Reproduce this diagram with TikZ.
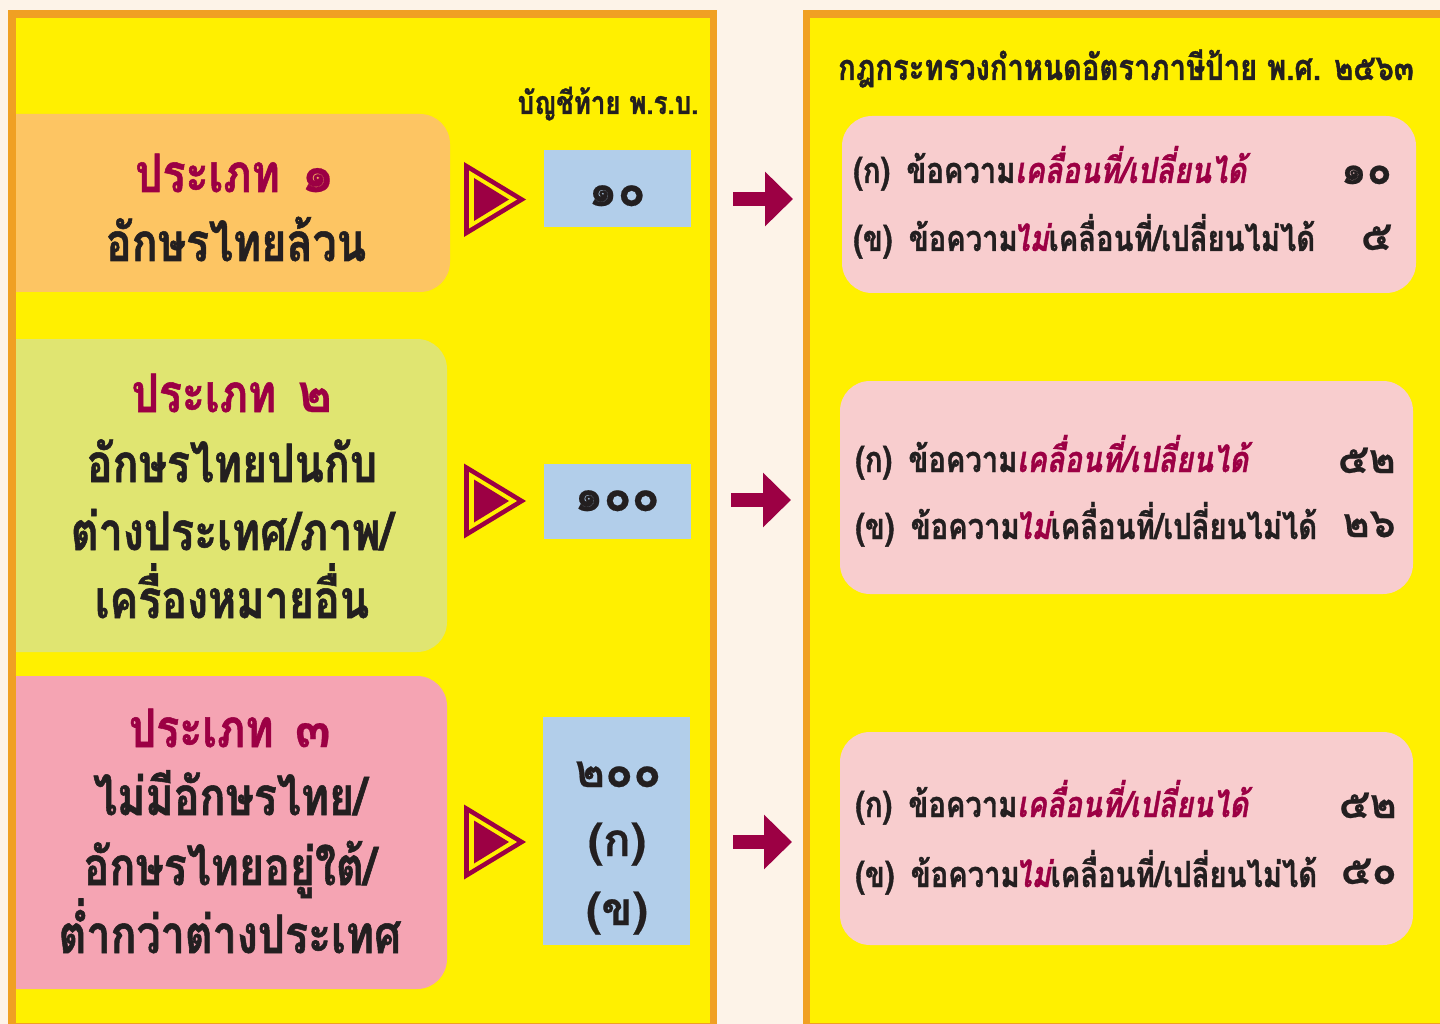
\documentclass[tikz,border=0pt]{standalone}
\usepackage{fontspec}
\usetikzlibrary{arrows.meta}
\newfontfamily\thai[Script=Thai, FakeStretch=0.81, BoldFeatures={FakeBold=1}, BoldItalicFeatures={FakeBold=1}]{Loma}
\newfontfamily\thaidig[Script=Thai, BoldFeatures={FakeBold=0.4}]{Loma}
\definecolor{cream}{HTML}{FDF3E8}
\definecolor{orangeB}{HTML}{F0A023}
\definecolor{yel}{HTML}{FFF000}
\definecolor{boxA}{HTML}{FDC563}
\definecolor{boxB}{HTML}{E0E571}
\definecolor{boxC}{HTML}{F5A4B3}
\definecolor{blueb}{HTML}{B2CEEA}
\definecolor{dred}{HTML}{9C0044}
\definecolor{pinkb}{HTML}{F8CDCE}
\definecolor{ink}{HTML}{231F20}
\tikzset{
  big/.style={font=\thai\bfseries\fontsize{53}{53}\selectfont, text=ink, anchor=base, inner sep=0},
  bigtitle/.style={big, text=dred},
  row/.style={font=\thai\bfseries\fontsize{36}{36}\selectfont, text=ink, anchor=base west, inner sep=0},
  num/.style={font=\thaidig\bfseries\fontsize{41}{41}\selectfont, text=ink, anchor=base east, inner sep=0},
  bnum/.style={font=\thaidig\bfseries\fontsize{46}{46}\selectfont, text=ink, anchor=base, inner sep=0},
  head/.style={font=\thai\bfseries\fontsize{32}{32}\selectfont, text=ink, anchor=base, inner sep=0},
  headr/.style={head, font=\thai\bfseries\fontsize{36}{36}\selectfont},
  bigarrow/.style={dred, line width=14pt, -{Triangle[length=28pt,width=53pt]}},
}
\newcommand{\tri}[1]{%
  \fill[dred] (464,#1-37.5) -- (464,#1+37.5) -- (526,#1) -- cycle;
  \fill[yel] (469,#1-29) -- (469,#1+29) -- (517,#1) -- cycle;
  \fill[dred] (474,#1-21.5) -- (474,#1+21.5) -- (509,#1) -- cycle;}
\newcommand{\mv}{{\color{dred}\itshape เคลื่อนที่/เปลี่ยนได้}}
\newcommand{\mai}{\hspace{-0.12em}{\color{dred}\itshape ไม่}}
\newcommand{\gap}{\hspace{0.45em}}
\newcommand{\dg}[1]{{\thaidig\bfseries #1}}
\begin{document}
\begin{tikzpicture}[x=1pt,y=-1pt]
\fill[cream] (0,0) rectangle (1440,1024);
\clip (0,0) rectangle (1440,1024);
% panels
\fill[yel] (12,14) rectangle (713.5,1027);
\fill[yel] (806.5,14) rectangle (1460,1027);
\begin{scope}
  \clip (16,0) rectangle (710,1024);
  \fill[boxA, rounded corners=30pt] (-40,114) rectangle (450,292);
  \fill[boxB, rounded corners=30pt] (-40,339) rectangle (447,652);
  \fill[boxC, rounded corners=30pt] (-40,676) rectangle (447,989);
\end{scope}
\draw[orangeB, line width=7.5pt] (12,14) rectangle (713.5,1027);
\draw[orangeB, line width=7.5pt] (806.5,14) rectangle (1460,1027);
% blue boxes
\fill[blueb] (544,150) rectangle (691,227);
\fill[blueb] (544,464) rectangle (691,539);
\fill[blueb] (543,717) rectangle (690,945);
% pink boxes
\fill[pinkb, rounded corners=30pt] (842,116) rectangle (1416,293);
\fill[pinkb, rounded corners=30pt] (840,381) rectangle (1413,594);
\fill[pinkb, rounded corners=30pt] (840,732) rectangle (1413,945);
% triangles
\tri{199.5}
\tri{501}
\tri{842}
% arrows
\coordinate (a1s) at (733,199); \coordinate (a1e) at (793,199);
\coordinate (a2s) at (731,500); \coordinate (a2e) at (791,500);
\coordinate (a3s) at (733,842); \coordinate (a3e) at (792,842);
\draw[bigarrow] (a1s) -- (a1e);
\draw[bigarrow] (a2s) -- (a2e);
\draw[bigarrow] (a3s) -- (a3e);
% headers
\node[head] (hl) at (608,114) {บัญชีท้าย พ.ร.บ.};
\node[headr] (hr) at (1126,80) {กฎกระทรวงกำหนดอัตราภาษีป้าย พ.ศ. ๒๕๖๓};
% left texts
\node[bigtitle] (t1a) at (235,192) {ประเภท\hspace{0.4em}\dg{๑}};
\node[big] (t1b) at (236,261) {อักษรไทยล้วน};
\node[bigtitle] (t2a) at (232,412) {ประเภท\hspace{0.4em}\dg{๒}};
\node[big] (t2b) at (232,482) {อักษรไทยปนกับ};
\node[big] (t2c) at (232,550) {ต่างประเทศ/ภาพ/};
\node[big] (t2d) at (232,618) {เครื่องหมายอื่น};
\node[bigtitle] (t3a) at (230,747) {ประเภท\hspace{0.4em}\dg{๓}};
\node[big] (t3b) at (230,815) {ไม่มีอักษรไทย/};
\node[big] (t3c) at (230,885) {อักษรไทยอยู่ใต้/};
\node[big] (t3d) at (230,953) {ต่ำกว่าต่างประเทศ};
% blue numbers
\node[bnum] (n1) at (617,206) {๑๐};
\node[bnum] (n2) at (617,511) {๑๐๐};
\node[bnum] (n3a) at (618,787) {๒๐๐};
\node[bnum] (n3b) at (617,856) {(ก)};
\node[bnum] (n3c) at (617,925) {(ข)};
% right rows
\node[row] (r1a) at (853,183) {(ก)\gap ข้อความ\mv};
\node[row] (r1b) at (853,251) {(ข)\gap ข้อความ\mai เคลื่อนที่/เปลี่ยนไม่ได้};
\node[num] (v1a) at (1392,184) {๑๐};
\node[num] (v1b) at (1392,250) {๕};
\node[row] (r2a) at (855,472) {(ก)\gap ข้อความ\mv};
\node[row] (r2b) at (855,539) {(ข)\gap ข้อความ\mai เคลื่อนที่/เปลี่ยนไม่ได้};
\node[num] (v2a) at (1396,473) {๕๒};
\node[num] (v2b) at (1396,537) {๒๖};
\node[row] (r3a) at (855,817) {(ก)\gap ข้อความ\mv};
\node[row] (r3b) at (855,887) {(ข)\gap ข้อความ\mai เคลื่อนที่/เปลี่ยนไม่ได้};
\node[num] (v3a) at (1397,818) {๕๒};
\node[num] (v3b) at (1397,884) {๕๐};
\end{tikzpicture}
\end{document}
